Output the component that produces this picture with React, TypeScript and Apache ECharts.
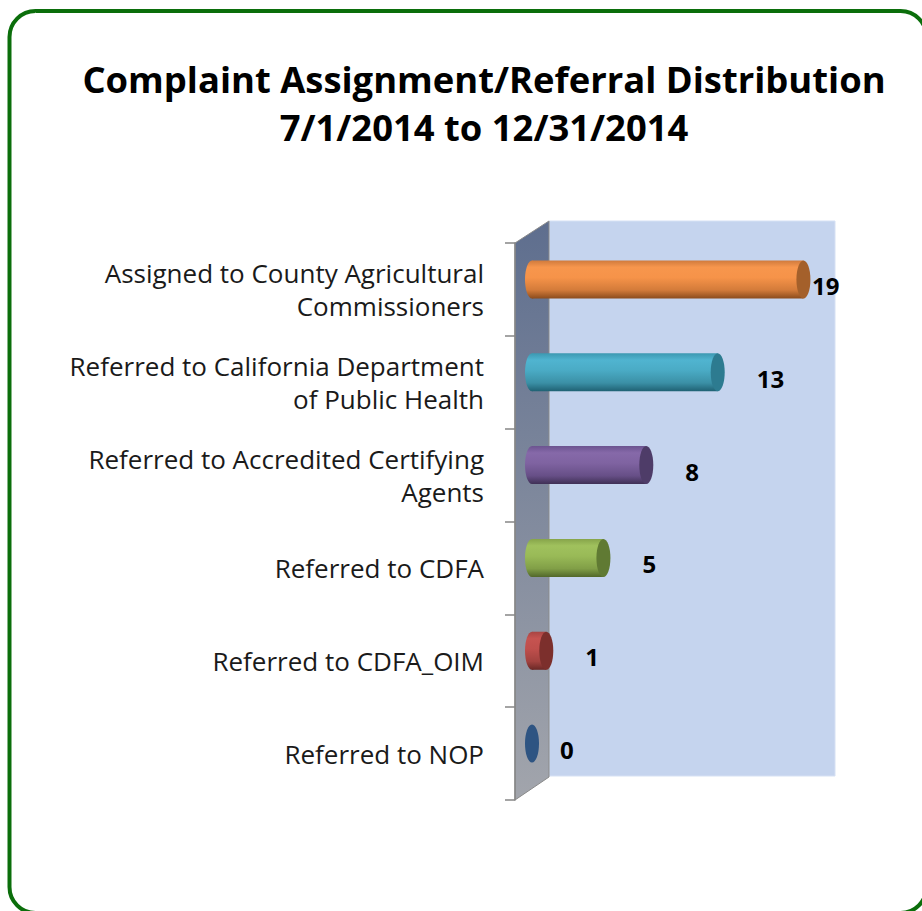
import React, { useEffect, useRef } from "react";
import * as echarts from "echarts";

const titleLines = ["Complaint Assignment/Referral Distribution", "7/1/2014 to 12/31/2014"];
const categories = [
  "Assigned to County Agricultural\nCommissioners",
  "Referred to California Department\nof Public Health",
  "Referred to Accredited Certifying\nAgents",
  "Referred to CDFA",
  "Referred to CDFA_OIM",
  "Referred to NOP",
];
const values = [19, 13, 8, 5, 1, 0];

// [top, light, mid, lower, bottom, cap]
const palettes = [
  ["#cf7a3c", "#f7964d", "#f69349", "#d37b3a", "#8c4c1d", "#a4602b"],
  ["#3c98b1", "#50b4d0", "#4aabc5", "#3b90a6", "#1f6173", "#2d7b90"],
  ["#6c5490", "#8669a9", "#7f63a1", "#674f87", "#3f3055", "#4e3c68"],
  ["#86a44a", "#a0c15d", "#99ba57", "#819f47", "#52682a", "#607a33"],
  ["#a84543", "#c65350", "#bf4f4c", "#a2423f", "#6a2826", "#7c2f2c"],
  ["#2b4f7b", "#3a6396", "#345b8b", "#2a4e79", "#1d3a5e", "#2e5482"],
];

export default function App() {
  const ref = useRef<HTMLDivElement>(null);
  useEffect(() => {
    if (!ref.current) return;
    const chart = echarts.init(ref.current, undefined, { renderer: "svg" });
    const grad = (p: string[]) =>
      new echarts.graphic.LinearGradient(0, 0, 0, 1, [
        { offset: 0, color: p[0] },
        { offset: 0.18, color: p[1] },
        { offset: 0.45, color: p[2] },
        { offset: 0.78, color: p[3] },
        { offset: 1, color: p[4] },
      ]);
    const option: any = {
      animation: false,
      backgroundColor: "#ffffff",
      title: {
        text: titleLines.join("\n"),
        left: 479,
        top: 50,
        textAlign: "center",
        textStyle: {
          fontFamily: "Open Sans",
          fontWeight: "bold",
          fontSize: 36.4,
          lineHeight: 48,
          color: "#000000",
        },
      },
      grid: { left: 532, top: 243, width: 300, height: 557 },
      xAxis: { type: "value", min: 0, max: 21, show: false },
      yAxis: {
        type: "category",
        data: categories,
        inverse: true,
        offset: 17,
        z: 3,
        axisLine: { show: true, onZero: false, lineStyle: { color: "#868686", width: 1.5 } },
        axisTick: { show: true, length: 10, lineStyle: { color: "#868686", width: 1.5 } },
        axisLabel: {
          margin: 31,
          fontFamily: "Open Sans",
          fontSize: 26,
          lineHeight: 33,
          color: "#1a1a1a",
          align: "right",
        },
        splitLine: { show: false },
      },
      graphic: [
        {
          type: "rect",
          z: -2,
          shape: { x: 9.5, y: 11, width: 917, height: 902, r: 26 },
          style: { fill: "none", stroke: "#0b6e0b", lineWidth: 4 },
        },
        {
          type: "rect",
          z: -2,
          shape: { x: 549, y: 221, width: 286, height: 555 },
          style: { fill: "#c5d4ee", stroke: "#d6e1f4", lineWidth: 1 },
        },
        {
          type: "polygon",
          z: -2,
          shape: { points: [[515, 243], [549, 221], [549, 777], [515, 800]] },
          style: {
            fill: new echarts.graphic.LinearGradient(0, 0, 0, 1, [
              { offset: 0, color: "#5e6e8e" },
              { offset: 1, color: "#a2a5ac" },
            ]),
            stroke: "#8a8a8a",
            lineWidth: 1,
          },
        },
      ],
      series: [
        {
          type: "custom",
          z: 5,
          data: values.map((v, i) => [v, i]),
          renderItem: (params: any, api: any) => {
            const v = api.value(0);
            const c = api.value(1);
            const p0 = api.coord([0, c]);
            const p1 = api.coord([v, c]);
            const plotRight = api.coord([21, c])[0];
            const band = api.size([0, 1])[1];
            const h = band * 0.41;
            const cy = p0[1] - 10;
            const rx = 7;
            const pal = palettes[c];
            const children: any[] = [];
            if (v > 0) {
              children.push({
                type: "ellipse",
                shape: { cx: p0[0], cy, rx, ry: h / 2 },
                style: { fill: grad(pal) },
              });
              children.push({
                type: "rect",
                shape: { x: p0[0], y: cy - h / 2, width: p1[0] - p0[0], height: h },
                style: { fill: grad(pal) },
              });
            }
            children.push({
              type: "ellipse",
              shape: { cx: p1[0], cy, rx, ry: h / 2 },
              style: { fill: pal[5] },
            });
            const lx = Math.min(p1[0] + rx + (v > 0 ? 32 : 21), plotRight - 20);
            children.push({
              type: "text",
              style: {
                text: String(v),
                x: lx,
                y: p0[1] - 4,
                fill: "#000000",
                font: "bold 24px 'Open Sans'",
                align: "left",
                verticalAlign: "middle",
              },
            });
            return { type: "group", children };
          },
        },
      ],
    };
    chart.setOption(option);
    return () => chart.dispose();
  }, []);
  return (
    <div
      ref={ref}
      style={{ position: "fixed", left: 0, top: 0, width: 922, height: 911 }}
    />
  );
}
